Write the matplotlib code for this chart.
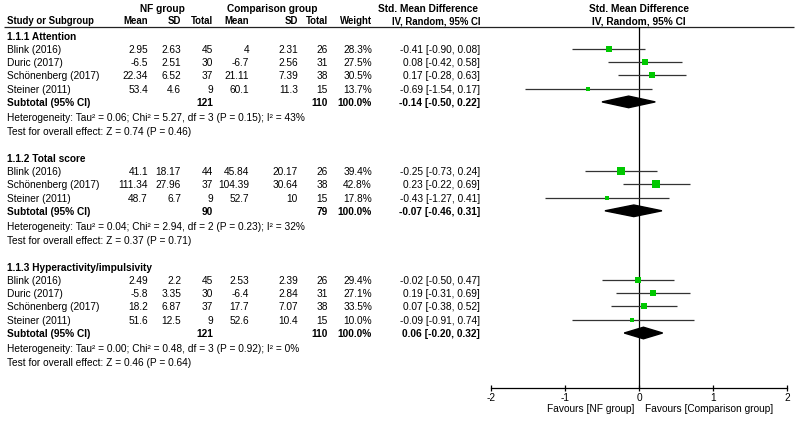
import numpy as np
import matplotlib
matplotlib.use("Agg")
import matplotlib.pyplot as plt
from matplotlib.patches import Polygon

plt.rcParams["font.family"] = ["Liberation Sans", "DejaVu Sans"]
plt.rcParams["axes.unicode_minus"] = False

# 1.1.1 Attention
att_names = ["Blink (2016)", "Duric (2017)", "Schönenberg (2017)", "Steiner (2011)"]
att_nf_mean = [2.95, -6.5, 22.34, 53.4]
att_nf_sd = [2.63, 2.51, 6.52, 4.6]
att_nf_n = [45, 30, 37, 9]
att_cmp_mean = [4, -6.7, 21.11, 60.1]
att_cmp_sd = [2.31, 2.56, 7.39, 11.3]
att_cmp_n = [26, 31, 38, 15]
att_weight = [28.3, 27.5, 30.5, 13.7]
att_smd = [-0.41, 0.08, 0.17, -0.69]
att_lo = [-0.90, -0.42, -0.28, -1.54]
att_hi = [0.08, 0.58, 0.63, 0.17]
att_sub = [121, 110, -0.14, -0.50, 0.22]
att_het = "Heterogeneity: Tau² = 0.06; Chi² = 5.27, df = 3 (P = 0.15); I² = 43%"
att_test = "Test for overall effect: Z = 0.74 (P = 0.46)"

# 1.1.2 Total score
tot_names = ["Blink (2016)", "Schönenberg (2017)", "Steiner (2011)"]
tot_nf_mean = [41.1, 111.34, 48.7]
tot_nf_sd = [18.17, 27.96, 6.7]
tot_nf_n = [44, 37, 9]
tot_cmp_mean = [45.84, 104.39, 52.7]
tot_cmp_sd = [20.17, 30.64, 10]
tot_cmp_n = [26, 38, 15]
tot_weight = [39.4, 42.8, 17.8]
tot_smd = [-0.25, 0.23, -0.43]
tot_lo = [-0.73, -0.22, -1.27]
tot_hi = [0.24, 0.69, 0.41]
tot_sub = [90, 79, -0.07, -0.46, 0.31]
tot_het = "Heterogeneity: Tau² = 0.04; Chi² = 2.94, df = 2 (P = 0.23); I² = 32%"
tot_test = "Test for overall effect: Z = 0.37 (P = 0.71)"

# 1.1.3 Hyperactivity/impulsivity
hyp_names = ["Blink (2016)", "Duric (2017)", "Schönenberg (2017)", "Steiner (2011)"]
hyp_nf_mean = [2.49, -5.8, 18.2, 51.6]
hyp_nf_sd = [2.2, 3.35, 6.87, 12.5]
hyp_nf_n = [45, 30, 37, 9]
hyp_cmp_mean = [2.53, -6.4, 17.7, 52.6]
hyp_cmp_sd = [2.39, 2.84, 7.07, 10.4]
hyp_cmp_n = [26, 31, 38, 15]
hyp_weight = [29.4, 27.1, 33.5, 10.0]
hyp_smd = [-0.02, 0.19, 0.07, -0.09]
hyp_lo = [-0.50, -0.31, -0.38, -0.91]
hyp_hi = [0.47, 0.69, 0.52, 0.74]
hyp_sub = [121, 110, 0.06, -0.20, 0.32]
hyp_het = "Heterogeneity: Tau² = 0.00; Chi² = 0.48, df = 3 (P = 0.92); I² = 0%"
hyp_test = "Test for overall effect: Z = 0.46 (P = 0.64)"

groups = [
    ("1.1.1 Attention", att_names, att_nf_mean, att_nf_sd, att_nf_n, att_cmp_mean,
     att_cmp_sd, att_cmp_n, att_weight, att_smd, att_lo, att_hi, att_sub, att_het, att_test),
    ("1.1.2 Total score", tot_names, tot_nf_mean, tot_nf_sd, tot_nf_n, tot_cmp_mean,
     tot_cmp_sd, tot_cmp_n, tot_weight, tot_smd, tot_lo, tot_hi, tot_sub, tot_het, tot_test),
    ("1.1.3 Hyperactivity/impulsivity", hyp_names, hyp_nf_mean, hyp_nf_sd, hyp_nf_n,
     hyp_cmp_mean, hyp_cmp_sd, hyp_cmp_n, hyp_weight, hyp_smd, hyp_lo, hyp_hi, hyp_sub,
     hyp_het, hyp_test),
]

ticks = [-2, -1, 0, 1, 2]

W, H = 795, 421
FS = 7.25   # body text
HS = 6.9    # column header row
GREEN = "#00c800"

fig = plt.figure(figsize=(W / 100, H / 100), dpi=100)

# table area in pixel-like layout units
tax = fig.add_axes([0, 0, 1, 1])
tax.set_xlim(0, W)
tax.set_ylim(H, 0)
tax.axis("off")

# forest area: x=-2..2 over px 491..787, y from header line to axis
top_px, axis_px = 27, 388
fx0, fx1 = 491, 787
fax = fig.add_axes([fx0 / W, (H - axis_px) / H, (fx1 - fx0) / W, (axis_px - top_px) / H])
fax.set_xlim(-2, 2)
fax.set_ylim(axis_px, top_px)
fax.patch.set_alpha(0)
for s in ["top", "right", "left"]:
    fax.spines[s].set_visible(False)
fax.spines["bottom"].set_linewidth(0.9)
fax.set_yticks([])
fax.set_xticks(ticks)
fax.set_xticklabels([str(t) for t in ticks])
fax.tick_params(axis="x", direction="inout", length=5, width=0.9, labelsize=FS, pad=1)
fax.axvline(0, color="black", lw=0.9, zorder=1)

# column right edges
name_x = 7
cols = [148, 181, 213, 249, 298, 328, 372]
ci_x = 480

# headers
tax.text(162, 9.5, "NF group", ha="center", va="center", fontsize=FS, fontweight="bold")
tax.text(272, 9.5, "Comparison group", ha="center", va="center", fontsize=FS, fontweight="bold")
tax.text(ci_x - 2, 9.5, "Std. Mean Difference", ha="right", va="center", fontsize=FS, fontweight="bold")
hdr = ["Mean", "SD", "Total", "Mean", "SD", "Total", "Weight"]
tax.text(name_x, 21.5, "Study or Subgroup", ha="left", va="center", fontsize=HS, fontweight="bold")
for x, h in zip(cols, hdr):
    tax.text(x, 21.5, h, ha="right", va="center", fontsize=HS, fontweight="bold")
tax.text(ci_x, 21.5, "IV, Random, 95% CI", ha="right", va="center", fontsize=HS, fontweight="bold")
tax.text(639, 9.5, "Std. Mean Difference", ha="center", va="center", fontsize=FS, fontweight="bold")
tax.text(639, 21.5, "IV, Random, 95% CI", ha="center", va="center", fontsize=FS, fontweight="bold")
tax.hlines(top_px, 4, 794, color="#222222", lw=0.9)


def fmt(v):
    return f"{v:g}"


step = 13.3
y = 36.5
for (title, names, nm, nsd, nn, cm, csd, cn, wt, smd, lo, hi, sub, het, test) in groups:
    tax.text(name_x, y, title, ha="left", va="center", fontsize=FS, fontweight="bold")
    y += 13.2
    for i in range(len(names)):
        vals = [fmt(nm[i]), fmt(nsd[i]), str(nn[i]), fmt(cm[i]), fmt(csd[i]), str(cn[i]),
                f"{wt[i]:.1f}%"]
        tax.text(name_x, y, names[i], ha="left", va="center", fontsize=FS)
        for x, v in zip(cols, vals):
            tax.text(x, y, v, ha="right", va="center", fontsize=FS)
        tax.text(ci_x, y, f"{smd[i]:.2f} [{lo[i]:.2f}, {hi[i]:.2f}]", ha="right",
                 va="center", fontsize=FS)
        fax.hlines(y - 1, lo[i], hi[i], color="#333333", lw=0.9, zorder=2)
        side = 1.12 * np.sqrt(wt[i]) * 0.72
        fax.scatter([smd[i]], [y - 1], marker="s", s=side ** 2, color=GREEN,
                    linewidths=0, zorder=3)
        y += step
    # subtotal
    tax.text(name_x, y, "Subtotal (95% CI)", ha="left", va="center", fontsize=FS, fontweight="bold")
    tax.text(cols[2], y, str(sub[0]), ha="right", va="center", fontsize=FS, fontweight="bold")
    tax.text(cols[5], y, str(sub[1]), ha="right", va="center", fontsize=FS, fontweight="bold")
    tax.text(cols[6], y, "100.0%", ha="right", va="center", fontsize=FS, fontweight="bold")
    tax.text(ci_x, y, f"{sub[2]:.2f} [{sub[3]:.2f}, {sub[4]:.2f}]", ha="right",
             va="center", fontsize=FS, fontweight="bold")
    yc = y - 1
    hh = 5.8
    fax.add_patch(Polygon([[sub[3], yc], [sub[2], yc - hh], [sub[4], yc], [sub[2], yc + hh]],
                          closed=True, color="black", zorder=4))
    y += 15.3
    tax.text(name_x, y, het, ha="left", va="center", fontsize=FS)
    y += 13.5
    tax.text(name_x, y, test, ha="left", va="center", fontsize=FS)
    y += 27

tax.text(634, 408.5, "Favours [NF group]", ha="right", va="center", fontsize=FS)
tax.text(645, 408.5, "Favours [Comparison group]", ha="left", va="center", fontsize=FS)

fig.savefig("out.png", dpi=100)
